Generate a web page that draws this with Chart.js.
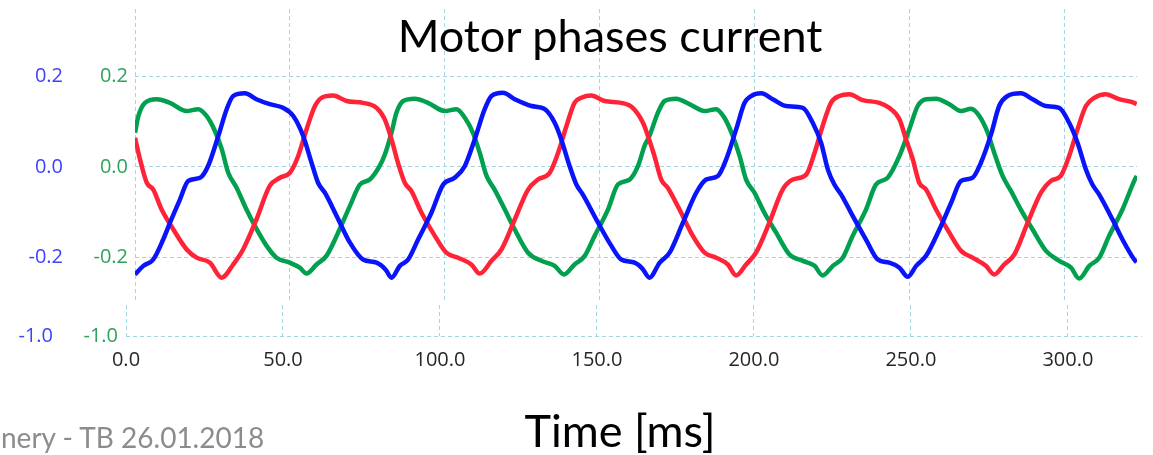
<!DOCTYPE html>
<html>
<head>
<meta charset="utf-8">
<script src="https://cdn.jsdelivr.net/npm/chart.js@4"></script>
<style>
  html, body { margin: 0; padding: 0; background: #fff; width: 1153px; height: 455px; overflow: hidden; }
  #wrap { position: relative; width: 1153px; height: 455px; }
  canvas { position: absolute; left: 0; top: 0; }
  .txt { position: absolute; white-space: nowrap; font-family: Lato, "Open Sans", sans-serif; line-height: 1; }
  #title { left: 610px; top: 13px; transform: translateX(-50%); font-size: 45px; color: #000; }
  #xtitle { left: 620px; top: 408px; transform: translateX(-50%); font-size: 45px; color: #000; }
  #footer { left: 1px; top: 423px; font-size: 28px; color: #8c8c8c; }
</style>
</head>
<body>
<div id="wrap">
  <canvas id="top" width="1153" height="310"></canvas>
  <canvas id="bottom" width="1153" height="455"></canvas>
  <div class="txt" id="title">Motor phases current</div>
  <div class="txt" id="xtitle">Time [ms]</div>
  <div class="txt" id="footer">nery - TB 26.01.2018</div>
</div>
<script>
// ---- tick values ----
const xTicks = [0, 50, 100, 150, 200, 250, 300];
const yTicksUpper = [-0.2, 0.0, 0.2];
const yTicksLower = [-1.0];

// ---- series (time in ms, current) ----
const blueT = [0, 2.7, 5.9, 9.1, 11.3, 14.5, 17.2, 21.0, 23.6, 26.9, 29.6, 31.7, 35.5, 39.2, 43.5, 47.8, 51.1, 54.3, 57.0, 59.1, 61.3, 65.1, 69.4, 73.6, 78.0, 81.0, 82.8, 85.5, 88.2, 91.4, 95.7, 99.5, 103.2, 106.5, 109.7, 112.9, 115.1, 118.8, 122.6, 128.0, 132.3, 135.5, 137.6, 140.3, 142.5, 144.6, 149.5, 153.8, 157.0, 161.3, 163.8, 166.1, 169.4, 172.6, 176.9, 181.2, 184.4, 188.2, 190.9, 194.1, 196.8, 198.9, 202.2, 205.9, 210.2, 215.6, 218.8, 221.5, 223.7, 225.8, 228.0, 231.7, 236.0, 239.8, 243.5, 246.8, 249.5, 252.2, 255.4, 259.7, 263.5, 266.7, 270.4, 273.1, 276.4, 279.0, 281.7, 286.0, 289.8, 294.1, 298.4, 301.6, 304.3, 307.0, 309.1, 311.3, 315.6, 318.8, 322.6, 323.4];
const blueI = [-0.237, -0.218, -0.204, -0.160, -0.123, -0.072, -0.031, -0.024, 0.002, 0.068, 0.127, 0.156, 0.162, 0.149, 0.138, 0.130, 0.112, 0.068, 0.009, -0.035, -0.057, -0.108, -0.167, -0.204, -0.211, -0.227, -0.244, -0.218, -0.204, -0.160, -0.101, -0.039, -0.024, 0.002, 0.061, 0.127, 0.156, 0.163, 0.149, 0.134, 0.127, 0.097, 0.061, 0.002, -0.039, -0.061, -0.123, -0.174, -0.204, -0.211, -0.224, -0.244, -0.211, -0.189, -0.123, -0.057, -0.028, -0.020, 0.017, 0.083, 0.141, 0.156, 0.162, 0.149, 0.134, 0.130, 0.097, 0.053, -0.006, -0.039, -0.061, -0.108, -0.160, -0.204, -0.211, -0.222, -0.242, -0.218, -0.196, -0.138, -0.079, -0.031, -0.024, 0.009, 0.072, 0.134, 0.156, 0.162, 0.149, 0.134, 0.130, 0.097, 0.053, -0.006, -0.039, -0.061, -0.116, -0.160, -0.204, -0.210];

const redT = [0, 1.6, 3.8, 5.9, 8.6, 12.4, 16.7, 19.9, 24.2, 28.0, 31.7, 34.9, 39.2, 43.5, 46.8, 50.0, 52.7, 55.4, 58.1, 60.2, 64.0, 68.3, 73.6, 78.0, 80.6, 82.8, 84.9, 87.1, 89.2, 92.5, 96.8, 100.5, 104.3, 108.6, 111.3, 115.1, 118.3, 122.6, 126.9, 130.1, 133.9, 136.6, 139.3, 141.9, 144.1, 147.3, 151.6, 157.0, 160.7, 164.0, 165.6, 167.7, 169.9, 172.0, 175.8, 180.1, 183.9, 187.6, 191.4, 194.1, 197.3, 200.5, 204.8, 209.1, 212.4, 216.7, 219.4, 222.0, 224.7, 227.4, 230.6, 234.9, 240.3, 243.5, 246.8, 248.9, 251.1, 253.2, 255.4, 258.6, 262.9, 266.7, 270.4, 274.7, 277.4, 280.6, 283.9, 288.2, 292.5, 295.7, 298.9, 301.6, 304.3, 307.0, 309.7, 313.4, 317.7, 322.6, 323.4];
const redI = [0.064, 0.017, -0.035, -0.050, -0.094, -0.138, -0.182, -0.200, -0.211, -0.244, -0.215, -0.182, -0.116, -0.042, -0.024, -0.013, 0.024, 0.083, 0.134, 0.152, 0.157, 0.145, 0.141, 0.130, 0.105, 0.061, 0.009, -0.035, -0.053, -0.101, -0.152, -0.189, -0.200, -0.215, -0.235, -0.207, -0.182, -0.116, -0.050, -0.028, -0.013, 0.031, 0.090, 0.141, 0.152, 0.157, 0.145, 0.141, 0.130, 0.097, 0.068, 0.024, -0.028, -0.046, -0.094, -0.152, -0.189, -0.200, -0.215, -0.239, -0.215, -0.189, -0.123, -0.050, -0.028, -0.017, 0.031, 0.090, 0.141, 0.156, 0.160, 0.147, 0.141, 0.130, 0.105, 0.061, 0.017, -0.035, -0.050, -0.094, -0.145, -0.185, -0.200, -0.218, -0.237, -0.215, -0.193, -0.123, -0.057, -0.031, -0.020, 0.024, 0.083, 0.134, 0.152, 0.160, 0.149, 0.141, 0.138];

const greenT = [0, 1.1, 3.2, 7.0, 11.3, 16.6, 20.4, 23.1, 25.8, 28.0, 30.1, 32.8, 36.0, 38.7, 42.5, 45.7, 50.0, 53.2, 55.4, 58.6, 61.8, 65.1, 69.4, 72.6, 75.8, 79.0, 80.6, 82.8, 84.4, 86.6, 90.3, 94.6, 100.0, 103.8, 106.5, 109.1, 111.3, 113.5, 116.1, 119.4, 122.6, 126.9, 131.2, 135.5, 138.5, 141.9, 145.2, 148.4, 152.7, 155.9, 159.7, 162.4, 164.5, 166.1, 168.8, 171.0, 174.7, 179.0, 183.9, 187.6, 190.3, 193.0, 195.2, 197.3, 200.0, 203.2, 207.0, 211.3, 215.6, 219.4, 222.0, 225.3, 228.5, 231.7, 236.0, 239.2, 243.0, 246.8, 250.0, 252.7, 255.4, 258.6, 262.9, 266.7, 269.9, 272.6, 275.3, 277.4, 280.1, 282.8, 286.0, 289.8, 294.1, 298.4, 302.2, 304.8, 308.1, 311.3, 314.5, 318.8, 322.6, 323.4];
const greenI = [0.075, 0.112, 0.141, 0.149, 0.141, 0.123, 0.127, 0.112, 0.079, 0.039, -0.013, -0.046, -0.094, -0.130, -0.174, -0.200, -0.211, -0.222, -0.235, -0.215, -0.196, -0.152, -0.086, -0.039, -0.028, 0.002, 0.026, 0.075, 0.119, 0.145, 0.150, 0.141, 0.123, 0.127, 0.108, 0.075, 0.031, -0.020, -0.050, -0.094, -0.138, -0.189, -0.207, -0.218, -0.237, -0.215, -0.196, -0.152, -0.094, -0.039, -0.028, 0.002, 0.046, 0.068, 0.119, 0.145, 0.150, 0.138, 0.123, 0.127, 0.108, 0.068, 0.024, -0.028, -0.057, -0.101, -0.145, -0.193, -0.207, -0.218, -0.239, -0.218, -0.200, -0.152, -0.094, -0.039, -0.024, 0.024, 0.083, 0.134, 0.149, 0.150, 0.138, 0.123, 0.128, 0.112, 0.075, 0.031, -0.020, -0.053, -0.094, -0.138, -0.185, -0.207, -0.222, -0.246, -0.218, -0.200, -0.152, -0.094, -0.031, -0.020];

const toPts = (ts, vs) => ts.map((t, i) => ({ x: t, y: vs[i] }));

const GRID = 'rgb(163,213,229)';
const BLUE_TXT = '#4040ff';
const GREEN_TXT = '#2ea25a';
const TICK_FONT = { family: "'Open Sans', 'Noto Sans', sans-serif", size: 20 };
const fmt = v => Number(v).toFixed(1);
const setTicks = arr => s => { s.ticks = arr.map(v => ({ value: v })); };

const lineDs = (label, pts, color) => ({
  label, data: pts, borderColor: color, backgroundColor: color,
  borderWidth: 4.5, pointRadius: 0, cubicInterpolationMode: 'monotone', fill: false,
  borderJoinStyle: 'round', borderCapStyle: 'butt'
});

new Chart(document.getElementById('top'), {
  type: 'line',
  data: {
    datasets: [
      lineDs('Phase B', toPts(blueT, blueI), '#0a14fa'),
      lineDs('Phase A', toPts(redT, redI), '#ff2338'),
      lineDs('Phase C', toPts(greenT, greenI), '#00a04f')
    ]
  },
  options: {
    responsive: false, animation: false, devicePixelRatio: 1,
    layout: { padding: { left: 0, right: 16, top: 9, bottom: 7 } },
    plugins: { legend: { display: false }, tooltip: { enabled: false }, title: { display: false } },
    scales: {
      x: {
        type: 'linear', min: 0, max: 323.5,
        afterBuildTicks: setTicks(xTicks),
        ticks: { display: false },
        grid: { color: GRID, lineWidth: 1, drawTicks: false },
        border: { display: false, dash: [4, 3] },
        afterFit: s => { s.height = 0; s.paddingLeft = 0; s.paddingRight = 0; }
      },
      y: {
        position: 'left', weight: 0, min: -0.2998, max: 0.3476,
        afterBuildTicks: setTicks(yTicksUpper),
        ticks: { color: GREEN_TXT, font: TICK_FONT, padding: 7, callback: fmt },
        grid: { color: GRID, lineWidth: 1, drawTicks: false },
        border: { display: false, dash: [4, 3] },
        afterFit: s => { s.width = 72; s.paddingTop = 0; s.paddingBottom = 0; }
      },
      yb: {
        position: 'left', weight: 1, min: -0.2998, max: 0.3476,
        afterBuildTicks: setTicks(yTicksUpper),
        ticks: { color: BLUE_TXT, font: TICK_FONT, padding: 0, callback: fmt },
        grid: { display: false, drawTicks: false },
        border: { display: false },
        afterFit: s => { s.width = 63; s.paddingTop = 0; s.paddingBottom = 0; }
      }
    }
  }
});

new Chart(document.getElementById('bottom'), {
  type: 'line',
  data: { datasets: [] },
  options: {
    responsive: false, animation: false, devicePixelRatio: 1,
    layout: { padding: { left: 0, right: 11, top: 305, bottom: 79 } },
    plugins: { legend: { display: false }, tooltip: { enabled: false } },
    scales: {
      x: {
        type: 'linear', min: 0, max: 323.6,
        afterBuildTicks: setTicks(xTicks),
        ticks: { color: '#262626', font: TICK_FONT, padding: 12, callback: fmt, maxRotation: 0, autoSkip: false },
        grid: { color: GRID, lineWidth: 1, drawTicks: false },
        border: { display: false, dash: [4, 3] },
        afterFit: s => { s.height = 40; s.paddingLeft = 0; s.paddingRight = 0; }
      },
      y: {
        position: 'left', weight: 0, min: -1.0, max: -0.9,
        afterBuildTicks: setTicks(yTicksLower),
        ticks: { color: GREEN_TXT, font: TICK_FONT, padding: 8, callback: fmt },
        grid: { color: GRID, lineWidth: 1, drawTicks: false },
        border: { display: false, dash: [4, 3] },
        afterFit: s => { s.width = 63; s.paddingTop = 0; s.paddingBottom = 0; }
      },
      yb: {
        position: 'left', weight: 1, min: -1.0, max: -0.9,
        afterBuildTicks: setTicks(yTicksLower),
        ticks: { color: BLUE_TXT, font: TICK_FONT, padding: 10, callback: fmt },
        grid: { display: false, drawTicks: false },
        border: { display: false },
        afterFit: s => { s.width = 63; s.paddingTop = 0; s.paddingBottom = 0; }
      }
    }
  }
});
</script>
</body>
</html>
